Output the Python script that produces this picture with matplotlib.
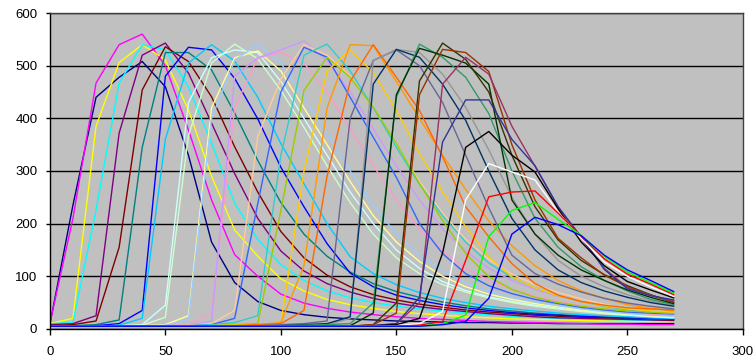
import matplotlib
matplotlib.use("Agg")
import matplotlib.pyplot as plt

plt.rcParams['font.family'] = ['Liberation Sans', 'DejaVu Sans']

# x positions shared by every series
x_vals = list(range(0, 280, 10))

# series colours (Excel default palette order)
colors = [
    '#000080', '#FF00FF', '#FFFF00', '#00FFFF', '#800080', '#800000', '#008080', '#0000FF',
    '#00CCFF', '#CCFFFF', '#CCFFCC', '#FFFF99', '#99CCFF', '#FF99CC', '#CC99FF', '#FFCC99',
    '#3366FF', '#33CCCC', '#99CC00', '#FFCC00', '#FF9900', '#FF6600', '#666699', '#969696',
    '#003366', '#339966', '#003300', '#333300', '#993300', '#993366', '#333399', '#000000',
    '#FFFFFF', '#FF0000', '#00FF00', '#0000FF',
]

s01 = [8, 235, 440, 478, 508, 460, 330, 165, 88, 52, 35, 27, 22, 19, 17, 15, 14, 13, 12, 12, 11, 11, 10, 10, 10, 10, 10, 10]
s02 = [10, 210, 467, 540, 560, 500, 378, 245, 141, 100, 66, 49, 39, 32, 27, 23, 20, 18, 16, 14, 13, 12, 11, 10, 9, 9, 8, 8]
s03 = [10, 20, 385, 506, 540, 511, 416, 290, 188, 138, 95, 72, 56, 46, 39, 33, 29, 26, 23, 21, 19, 18, 17, 16, 15, 15, 14, 14]
s04 = [10, 12, 226, 467, 540, 530, 460, 353, 239, 170, 122, 92, 72, 59, 50, 43, 38, 34, 30, 27, 24, 22, 20, 19, 18, 17, 16, 15]
s05 = [8, 10, 25, 372, 520, 543, 486, 391, 295, 210, 148, 110, 86, 70, 58, 49, 42, 37, 33, 29, 26, 23, 21, 20, 19, 18, 17, 16]
s06 = [6, 8, 15, 155, 454, 536, 508, 441, 346, 260, 185, 135, 102, 80, 65, 55, 47, 41, 36, 32, 29, 26, 24, 22, 21, 20, 18, 17]
s07 = [5, 6, 8, 17, 345, 525, 525, 492, 410, 320, 240, 180, 138, 108, 86, 71, 60, 51, 44, 38, 34, 30, 27, 25, 23, 21, 19, 18]
s08 = [5, 5, 6, 10, 35, 480, 535, 530, 476, 399, 307, 232, 162, 106, 80, 64, 54, 46, 40, 35, 31, 28, 26, 24, 22, 21, 20, 19]
s09 = [5, 5, 5, 7, 20, 360, 505, 540, 509, 440, 352, 276, 200, 137, 105, 84, 69, 58, 50, 43, 38, 34, 30, 27, 25, 23, 21, 20]
s10 = [5, 5, 5, 6, 8, 45, 430, 515, 530, 525, 470, 400, 330, 260, 200, 150, 115, 90, 73, 61, 52, 45, 39, 34, 30, 27, 23, 21]
s11 = [5, 5, 5, 5, 7, 22, 367, 505, 541, 513, 453, 383, 310, 240, 180, 135, 105, 84, 70, 59, 50, 43, 38, 33, 29, 26, 24, 22]
s12 = [5, 5, 5, 5, 6, 8, 25, 420, 515, 528, 490, 420, 350, 280, 215, 165, 128, 100, 80, 66, 56, 48, 42, 36, 32, 28, 25, 23]
s13 = [5, 5, 5, 5, 5, 7, 18, 400, 510, 541, 505, 440, 370, 300, 235, 180, 140, 110, 88, 72, 60, 51, 44, 38, 33, 29, 26, 24]
s14 = [5, 5, 5, 5, 5, 6, 8, 30, 420, 515, 525, 505, 450, 380, 310, 245, 190, 148, 115, 92, 75, 62, 52, 44, 38, 32, 28, 25]
s15 = [5, 5, 5, 5, 5, 6, 7, 15, 480, 515, 530, 547, 510, 450, 380, 310, 245, 190, 148, 115, 92, 75, 62, 52, 44, 36, 30, 26]
s16 = [5, 5, 5, 5, 5, 6, 7, 10, 35, 365, 475, 540, 520, 480, 420, 350, 280, 220, 170, 132, 104, 84, 69, 57, 47, 38, 31, 27]
s17 = [5, 5, 5, 5, 5, 5, 6, 8, 20, 238, 450, 535, 516, 440, 364, 288, 200, 143, 105, 82, 67, 56, 48, 41, 36, 32, 30, 28]
s18 = [5, 5, 5, 5, 5, 5, 6, 8, 12, 25, 330, 520, 541, 490, 420, 345, 275, 215, 165, 125, 98, 78, 63, 52, 43, 36, 32, 29]
s19 = [5, 5, 5, 5, 5, 5, 5, 6, 8, 10, 225, 453, 516, 478, 421, 352, 276, 206, 143, 99, 75, 60, 50, 43, 38, 34, 32, 30]
s20 = [5, 5, 5, 5, 5, 5, 5, 6, 7, 8, 10, 300, 490, 530, 487, 415, 333, 260, 194, 137, 99, 78, 63, 52, 44, 38, 34, 32]
s21 = [5, 5, 5, 5, 5, 5, 5, 5, 6, 8, 12, 120, 420, 540, 538, 470, 400, 330, 265, 205, 158, 120, 92, 72, 58, 46, 39, 34]
s22 = [5, 5, 5, 5, 5, 5, 5, 5, 6, 8, 10, 35, 290, 470, 540, 478, 415, 327, 232, 175, 124, 86, 64, 52, 45, 40, 38, 36]
s23 = [5, 5, 5, 5, 5, 5, 5, 5, 5, 6, 8, 10, 15, 400, 510, 530, 500, 430, 330, 230, 140, 105, 85, 70, 58, 49, 43, 38]
s24 = [5, 5, 5, 5, 5, 5, 5, 5, 5, 5, 5, 5, 8, 20, 510, 531, 525, 484, 421, 340, 250, 180, 130, 100, 80, 65, 53, 44]
s25 = [5, 5, 5, 5, 5, 5, 5, 5, 5, 5, 6, 8, 10, 23, 465, 531, 516, 465, 396, 300, 210, 150, 112, 88, 72, 60, 50, 43]
s26 = [5, 5, 5, 5, 5, 5, 5, 5, 5, 5, 6, 7, 8, 10, 49, 440, 541, 516, 478, 409, 300, 210, 155, 118, 92, 72, 56, 46]
s27 = [5, 5, 5, 5, 5, 5, 5, 5, 5, 5, 5, 5, 5, 6, 30, 445, 533, 520, 505, 465, 245, 180, 140, 112, 92, 74, 60, 48]
s28 = [5, 5, 5, 5, 5, 5, 5, 5, 5, 5, 5, 5, 5, 5, 8, 49, 471, 543, 512, 450, 330, 232, 169, 130, 103, 82, 65, 50]
s29 = [5, 5, 5, 5, 5, 5, 5, 5, 5, 5, 5, 5, 5, 5, 8, 30, 445, 531, 525, 489, 350, 245, 172, 135, 102, 80, 64, 51]
s30 = [5, 5, 5, 5, 5, 5, 5, 5, 5, 5, 5, 5, 5, 5, 6, 10, 50, 465, 516, 484, 385, 309, 232, 172, 115, 78, 64, 53]
s31 = [5, 5, 5, 5, 5, 5, 5, 5, 5, 5, 5, 5, 5, 5, 6, 10, 60, 355, 435, 435, 360, 310, 232, 175, 113, 76, 63, 55]
s32 = [5, 5, 5, 5, 5, 5, 5, 5, 5, 5, 5, 5, 5, 5, 6, 8, 20, 144, 345, 375, 330, 298, 228, 165, 120, 90, 74, 59]
s33 = [5, 5, 5, 5, 5, 5, 5, 5, 5, 5, 5, 5, 5, 5, 5, 6, 10, 33, 245, 314, 298, 283, 222, 172, 127, 100, 80, 62]
s34 = [5, 5, 5, 5, 5, 5, 5, 5, 5, 5, 5, 5, 5, 5, 5, 5, 7, 14, 130, 251, 260, 262, 220, 176, 133, 104, 85, 65]
s35 = [5, 5, 5, 5, 5, 5, 5, 5, 5, 5, 5, 5, 5, 5, 5, 5, 5, 10, 26, 175, 225, 240, 208, 178, 138, 108, 88, 68]
s36 = [5, 5, 5, 5, 5, 5, 5, 5, 5, 5, 5, 5, 5, 5, 5, 5, 5, 8, 14, 58, 180, 212, 198, 177, 140, 112, 92, 71]

series = [s01, s02, s03, s04, s05, s06, s07, s08, s09, s10, s11, s12,
          s13, s14, s15, s16, s17, s18, s19, s20, s21, s22, s23, s24,
          s25, s26, s27, s28, s29, s30, s31, s32, s33, s34, s35, s36]

x_ticks = [0, 50, 100, 150, 200, 250, 300]
y_ticks = [0, 100, 200, 300, 400, 500, 600]

fig = plt.figure(figsize=(7.55, 3.63), dpi=100)
ax = fig.add_axes([0.066, 0.094, 0.918, 0.870])
ax.set_facecolor('#C0C0C0')

for ys, c in zip(series, colors):
    ax.plot(x_vals, ys, color=c, linewidth=1.0)

ax.set_xlim(0, 300)
ax.set_ylim(0, 600)
ax.set_xticks(x_ticks)
ax.set_yticks(y_ticks)
ax.yaxis.grid(True, color='black', linewidth=1.0)
ax.set_axisbelow(True)
ax.tick_params(axis='x', direction='out', length=4, width=1, pad=8, labelsize=9.5)
ax.tick_params(axis='y', direction='out', length=3, width=1, pad=6, labelsize=9.5)
for side in ['left', 'bottom']:
    ax.spines[side].set_color('black')
    ax.spines[side].set_linewidth(1.0)
for side in ['top', 'right']:
    ax.spines[side].set_color('#404040')
    ax.spines[side].set_linewidth(1.0)

fig.savefig('out.png', dpi=100)
